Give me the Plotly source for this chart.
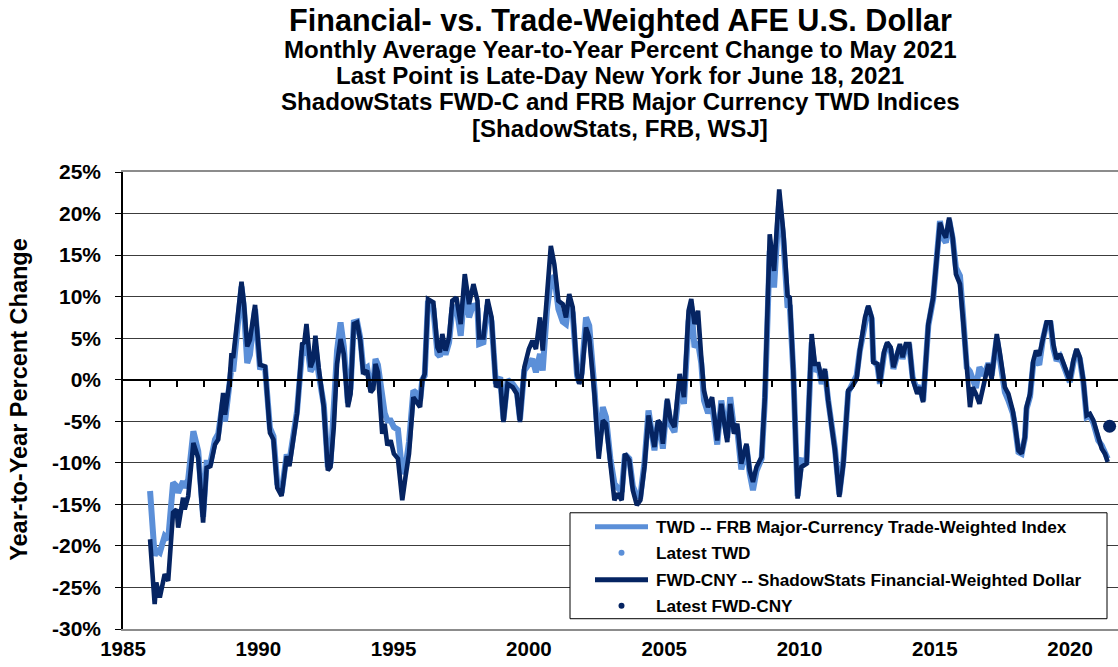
import plotly.graph_objects as go

# ---------------- data ----------------
months = [
    1986.0, 1986.17, 1986.23, 1986.36, 1986.54, 1986.67, 1986.85, 1986.98, 1987.04, 1987.22,
    1987.28, 1987.41, 1987.6, 1987.78, 1987.96, 1988.09, 1988.23, 1988.4, 1988.52, 1988.7,
    1988.77, 1988.93, 1989.01, 1989.07, 1989.38, 1989.47, 1989.59, 1989.69, 1989.88, 1990.06,
    1990.25, 1990.43, 1990.56, 1990.7, 1990.86, 1991.05, 1991.15, 1991.43, 1991.62, 1991.7,
    1991.78, 1991.93,
    1992.02, 1992.11, 1992.23, 1992.42, 1992.57, 1992.67, 1992.79, 1992.91, 1993.04, 1993.16,
    1993.31, 1993.41, 1993.53, 1993.65, 1993.77, 1993.88, 1994.02, 1994.15, 1994.25, 1994.33,
    1994.42, 1994.58, 1994.67, 1994.77, 1994.89, 1995.01, 1995.16, 1995.32, 1995.44, 1995.57,
    1995.73, 1995.81, 1995.98, 1996.06, 1996.15, 1996.27, 1996.47, 1996.62, 1996.71, 1996.8,
    1996.92, 1997.05, 1997.17, 1997.32, 1997.48, 1997.63, 1997.79,
    1997.95, 1998.1, 1998.16, 1998.32, 1998.47, 1998.62, 1998.78, 1998.94, 1999.06, 1999.21,
    1999.4, 1999.55, 1999.67, 1999.83, 2000.0, 2000.13, 2000.26, 2000.41, 2000.51, 2000.67,
    2000.81, 2000.94, 2001.09, 2001.25, 2001.37, 2001.49, 2001.62, 2001.78, 2001.86, 2001.95,
    2002.11, 2002.23, 2002.42, 2002.58, 2002.73, 2002.85, 2003.01, 2003.16, 2003.28, 2003.43,
    2003.55, 2003.71, 2003.84, 2003.99,
    2004.12, 2004.27, 2004.42, 2004.52, 2004.64, 2004.77, 2004.86, 2004.95, 2005.11, 2005.24,
    2005.38, 2005.57, 2005.73, 2005.9, 2006.0, 2006.12, 2006.25, 2006.37, 2006.47, 2006.62,
    2006.77, 2006.96, 2007.11, 2007.33, 2007.44, 2007.58, 2007.7, 2007.85, 2008.04, 2008.16,
    2008.28, 2008.41, 2008.6, 2008.72, 2008.82, 2008.9, 2009.06, 2009.25, 2009.4, 2009.56,
    2009.64, 2009.77, 2009.93, 2010.07, 2010.26,
    2010.33, 2010.45, 2010.57, 2010.7, 2010.82, 2010.94, 2011.06, 2011.19, 2011.31, 2011.47,
    2011.62, 2011.8, 2011.93, 2012.11, 2012.23, 2012.42, 2012.54, 2012.67, 2012.73, 2012.88,
    2012.97, 2013.12, 2013.24, 2013.37, 2013.47, 2013.59, 2013.71, 2013.81, 2013.93, 2014.06,
    2014.18, 2014.35, 2014.45, 2014.57, 2014.76, 2014.94, 2015.07, 2015.19, 2015.31, 2015.41,
    2015.53, 2015.66, 2015.78, 2015.93,
    2016.05, 2016.18, 2016.3, 2016.4, 2016.52, 2016.65, 2016.82, 2016.98, 2017.1, 2017.29,
    2017.41, 2017.59, 2017.72, 2017.88, 2017.96, 2018.09, 2018.21, 2018.33, 2018.39, 2018.52,
    2018.64, 2018.74, 2018.86, 2018.99, 2019.13, 2019.28, 2019.38, 2019.5, 2019.63, 2019.81,
    2019.99, 2020.12, 2020.24, 2020.36, 2020.49, 2020.61, 2020.73, 2020.86, 2021.04, 2021.17,
    2021.29, 2021.39,
]

fwd_yoy = [
    -19.2, -27.0, -24.4, -26.2, -23.4, -24.2, -16.0, -15.6, -17.8, -14.2,
    -15.6, -14.0, -7.6, -9.4, -17.2, -10.6, -10.4, -7.8, -7.2, -1.6,
    -4.2, -0.4, 3.2, 2.6, 11.8, 9.2, 4.0, 4.8, 9.0, 1.8,
    1.6, -6.4, -7.2, -13.0, -14.0, -9.2, -10.4, -4.1, 4.3, 4.5,
    6.7, 1.5,
    2.3, 5.3, 1.5, -3.3, -10.9, -10.5, -5.7, 1.9, 4.9, 3.1,
    -3.3, -1.7, 6.7, 6.9, 4.7, 0.7, 1.1, -1.5, -1.1, 1.9,
    0.9, -6.5, -5.3, -7.9, -7.3, -8.9, -9.5, -14.5, -11.7, -8.9,
    -2.1, -2.5, -3.3, -0.1, 0.7, 9.7, 9.3, 3.9, 3.3, 5.5,
    3.5, 5.1, 9.5, 9.9, 6.7, 12.7, 9.1,
    11.5, 9.5, 5.1, 5.1, 9.7, 7.5, -0.9, -0.1, -5.1, -0.5,
    -0.9, -1.7, -5.1, 1.5, 3.7, 4.7, 3.7, 7.5, 3.5, 11.1,
    16.1, 13.9, 9.5, 9.1, 7.5, 10.3, 8.7, 0.7, -0.5, 0.3,
    6.3, 5.1, -1.7, -9.5, -4.9, -5.3, -10.1, -14.5, -13.7, -14.5,
    -8.9, -9.7, -13.3, -15.1,
    -14.5, -10.5, -4.3, -6.1, -8.1, -4.9, -5.3, -7.7, -2.3, -4.9,
    -5.7, 0.7, -2.1, 8.3, 9.7, 6.7, 8.3, 2.7, -1.3, -3.3,
    -2.1, -7.3, -2.9, -7.5, -2.9, -6.5, -5.3, -10.1, -7.7, -10.9,
    -12.3, -10.5, -9.3, -2.1, 7.1, 17.5, 13.1, 22.9, 17.9, 10.1,
    9.9, 1.1, -14.3, -10.5, -10.1,
    -2.9, 5.5, 1.9, 1.9, -0.1, 1.3, -2.5, -5.7, -8.5, -14.1,
    -10.1, -1.3, -0.9, 0.1, 3.5, 7.5, 8.9, 7.5, 2.1, 1.9,
    -0.3, 3.3, 4.5, 3.9, 1.5, 2.9, 4.3, 2.7, 4.3, 4.3,
    0.1, -1.7, -0.9, -2.7, 6.7, 9.9, 14.7, 18.9, 17.7, 17.1,
    19.5, 17.1, 12.7, 11.5,
    7.0, 1.0, -3.3, -0.9, -1.7, -2.9, -0.1, 1.9, 0.1, 5.5,
    3.1, -0.9, -1.7, -3.7, -5.3, -8.5, -8.9, -6.9, -3.3, -1.7,
    2.3, 3.5, 2.9, 5.1, 6.9, 6.9, 4.3, 2.5, 3.1, 1.5,
    -0.1, 2.3, 3.7, 2.7, -0.1, -4.3, -4.1, -4.9, -7.1, -8.3,
    -8.9, -9.9,
]

twd_yoy = [
    -13.4, -21.2, -20.5, -20.8, -18.8, -19.2, -12.4, -12.8, -13.6, -12.2,
    -13.0, -12.0, -6.2, -8.6, -16.5, -10.0, -10.0, -7.2, -6.5, -2.5,
    -5.0, -1.0, 1.5, 1.0, 11.2, 8.5, 2.0, 3.0, 8.5, 1.5,
    1.4, -5.8, -6.8, -12.5, -13.6, -9.0, -9.8, -3.8, 3.5, 3.0,
    5.0, 1.0,
    1.5, 4.0, 0.7, -3.0, -10.5, -10.0, -4.5, 3.5, 6.9, 4.0,
    -2.8, -1.0, 6.9, 7.0, 5.0, 1.2, 1.5, -1.0, -0.5, 2.5,
    1.8, -2.7, -4.0, -4.9, -4.9, -5.7, -6.0, -11.3, -10.5, -7.5,
    -1.3, -1.5, -2.5, 0.0, 0.5, 9.5, 8.5, 3.1, 2.8, 4.5,
    3.0, 4.5, 8.5, 8.8, 5.3, 11.0, 7.5,
    9.1, 8.5, 4.3, 4.5, 9.0, 7.0, -0.5, 0.3, -4.8, 0.0,
    -0.5, -1.2, -4.8, 1.1, 1.9, 2.5, 0.9, 3.1, 1.1, 8.5,
    11.9, 12.5, 8.5, 7.0, 6.7, 9.5, 8.0, 0.5, -0.3, 0.8,
    7.5, 6.5, -1.0, -8.5, -3.3, -4.5, -9.5, -12.5, -13.0, -13.5,
    -9.0, -9.5, -12.8, -14.0,
    -14.0, -10.0, -3.7, -5.8, -8.5, -5.0, -5.8, -8.3, -2.5, -5.5,
    -6.3, -0.5, -2.9, 7.0, 8.8, 3.9, 4.5, 2.0, -2.5, -4.0,
    -3.0, -7.8, -2.5, -7.0, -2.1, -6.0, -6.0, -10.8, -8.0, -11.3,
    -13.3, -11.0, -9.5, -2.5, 6.5, 15.5, 11.1, 21.5, 17.0, 8.7,
    9.0, 1.0, -14.0, -9.7, -9.8,
    -3.0, 4.5, 1.0, 1.5, -0.5, 1.0, -2.5, -5.5, -8.3, -13.8,
    -9.8, -1.5, -0.7, 0.5, 3.5, 7.3, 8.7, 7.3, 2.3, 1.7,
    -0.5, 3.0, 4.3, 3.6, 1.3, 2.7, 4.0, 2.5, 4.0, 4.0,
    0.3, -1.3, -0.7, -2.5, 6.5, 9.7, 14.5, 19.1, 17.0, 16.5,
    19.2, 17.0, 13.5, 12.5,
    7.5, 1.5, 1.0, 0.0, -1.0, 1.5, 0.5, 2.0, 0.5, 5.0,
    2.8, -1.5, -2.5, -4.0, -5.5, -8.7, -8.9, -7.0, -3.5, -2.0,
    2.0, 2.3, 1.8, 4.8, 6.7, 6.7, 3.8, 2.3, 2.8, 1.3,
    -0.3, 2.0, 3.5, 2.5, -0.3, -4.5, -4.3, -5.2, -7.3, -7.9,
    -8.8, -9.5,
]

latest_date = [2021.46]
latest_twd = [-5.6]
latest_fwd = [-5.6]

y_tick_values = [25, 20, 15, 10, 5, 0, -5, -10, -15, -20, -25, -30]
y_tick_labels = ["25%", "20%", "15%", "10%", "5%", "0%", "-5%", "-10%", "-15%", "-20%", "-25%", "-30%"]
x_tick_values = [1985, 1990, 1995, 2000, 2005, 2010, 2015, 2020]
x_tick_labels = ["1985", "1990", "1995", "2000", "2005", "2010", "2015", "2020"]
year_ticks = list(range(1986, 2022))

title_lines = [
    "Financial- vs. Trade-Weighted AFE U.S. Dollar",
    "Monthly Average Year-to-Year Percent Change to May 2021",
    "Last Point is Late-Day New York for June 18, 2021",
    "ShadowStats FWD-C and FRB Major Currency TWD Indices",
    "[ShadowStats, FRB, WSJ]",
]
y_title = "Year-to-Year Percent Change"
legend_labels = [
    "TWD -- FRB Major-Currency Trade-Weighted Index",
    "Latest TWD",
    "FWD-CNY -- ShadowStats Financial-Weighted Dollar",
    "Latest FWD-CNY",
]

assert len(months) == len(fwd_yoy) == len(twd_yoy)

# ---------------- styling / geometry ----------------
LIGHT = "#5B8FD8"
DARK = "#052462"
FONT = "Liberation Sans, Arial, sans-serif"

W, H = 1118, 667
ML, MT = 123, 172
PLOT_BOTTOM = 629.3
MR, MB = 0, H - PLOT_BOTTOM
PW, PH = W - ML - MR, H - MT - MB


def px(page_x):
    return (page_x - ML) / PW


def py(page_y):
    return (H - MB - page_y) / PH


fig = go.Figure()

fig.add_trace(go.Scatter(
    x=months, y=twd_yoy, mode="lines", name=legend_labels[0],
    line=dict(color=LIGHT, width=6)))
fig.add_trace(go.Scatter(
    x=latest_date, y=latest_twd, mode="markers", name=legend_labels[1],
    marker=dict(color=LIGHT, size=7), cliponaxis=False))
fig.add_trace(go.Scatter(
    x=months, y=fwd_yoy, mode="lines", name=legend_labels[2],
    line=dict(color=DARK, width=4.6)))
fig.add_trace(go.Scatter(
    x=latest_date, y=latest_fwd, mode="markers", name=legend_labels[3],
    marker=dict(color=DARK, size=13), cliponaxis=False))

x_range = [1985, 1985 + PW / 27.06]
y_range = [-30, 25]

# invisible trace to activate the zero-crossing tick axis
fig.add_trace(go.Scatter(x=x_range, y=[0, 0], mode="lines", xaxis="x2",
                         line=dict(width=0), showlegend=False, hoverinfo="skip"))

fig.update_layout(
    width=W, height=H,
    margin=dict(l=ML, r=MR, t=MT, b=MB, autoexpand=False),
    paper_bgcolor="white", plot_bgcolor="white",
    font=dict(family=FONT, color="black"),
    showlegend=False,
    xaxis=dict(
        range=x_range, tickvals=x_tick_values, ticktext=x_tick_labels, automargin=False,
        showgrid=False, zeroline=False, ticks="", showline=True, linecolor="#8c8c8c",
        linewidth=2, mirror=True, ticklabelstandoff=0,
        tickfont=dict(family=FONT, size=20.5, color="black", weight="bold"),
    ),
    xaxis2=dict(
        range=x_range, overlaying="x", anchor="free", position=30 / 55, automargin=False,
        tickvals=year_ticks, ticks="outside", ticklen=7, tickwidth=1.5, tickcolor="black",
        showticklabels=False, showgrid=False, zeroline=False,
        showline=True, linecolor="black", linewidth=1.5,
    ),
    yaxis=dict(
        range=y_range, tickvals=y_tick_values, ticktext=y_tick_labels, automargin=False,
        showgrid=True, gridcolor="#3c3c3c", gridwidth=1, zeroline=False,
        showline=True, linecolor="black", linewidth=1.5, ticks="outside", ticklen=6,
        tickcolor="black", ticklabelstandoff=10,
        tickfont=dict(family=FONT, size=21, color="black", weight="bold"),
    ),
)

# y-axis title
fig.add_annotation(
    text=y_title, xref="paper", yref="paper", x=px(19), y=py(400),
    xanchor="center", yanchor="middle", textangle=-90, showarrow=False,
    font=dict(family=FONT, size=23.5, color="black", weight="bold"))

# titles
title_y = [20, 49, 75, 101, 128]
title_sizes = [30.6, 24.1, 24.1, 24.1, 24.1]
for txt, yy, sz in zip(title_lines, title_y, title_sizes):
    fig.add_annotation(
        text=txt, xref="paper", yref="paper", x=px(620),
        y=py(yy), xanchor="center", yanchor="middle", showarrow=False,
        font=dict(family=FONT, size=sz, color="black", weight="bold"))

# legend box (drawn in page pixel positions)
fig.add_shape(type="rect", xref="paper", yref="paper",
              x0=px(570), x1=px(1107), y0=py(619), y1=py(513),
              line=dict(color="black", width=1), fillcolor="white", layer="above")
row_y = [527, 553, 580, 606]
for i, (label, yy) in enumerate(zip(legend_labels, row_y)):
    color = LIGHT if i < 2 else DARK
    if i % 2 == 0:
        fig.add_shape(type="line", xref="paper", yref="paper",
                      x0=px(595), x1=px(648), y0=py(yy), y1=py(yy),
                      line=dict(color=color, width=5), layer="above")
    else:
        r = 3
        fig.add_shape(type="circle", xref="paper", yref="paper",
                      x0=px(621.5 - r), x1=px(621.5 + r), y0=py(yy + r), y1=py(yy - r),
                      line=dict(color=color, width=0), fillcolor=color, layer="above")
    fig.add_annotation(
        text=label, xref="paper", yref="paper", x=px(654), y=py(yy),
        xanchor="left", yanchor="middle", showarrow=False,
        font=dict(family=FONT, size=17.2, color="black", weight="bold"))

# the page's default body margin would shift the figure; remove it
fig.write_html("out.html", config={"displayModeBar": False},
               post_script="document.body.style.margin='0px';")
